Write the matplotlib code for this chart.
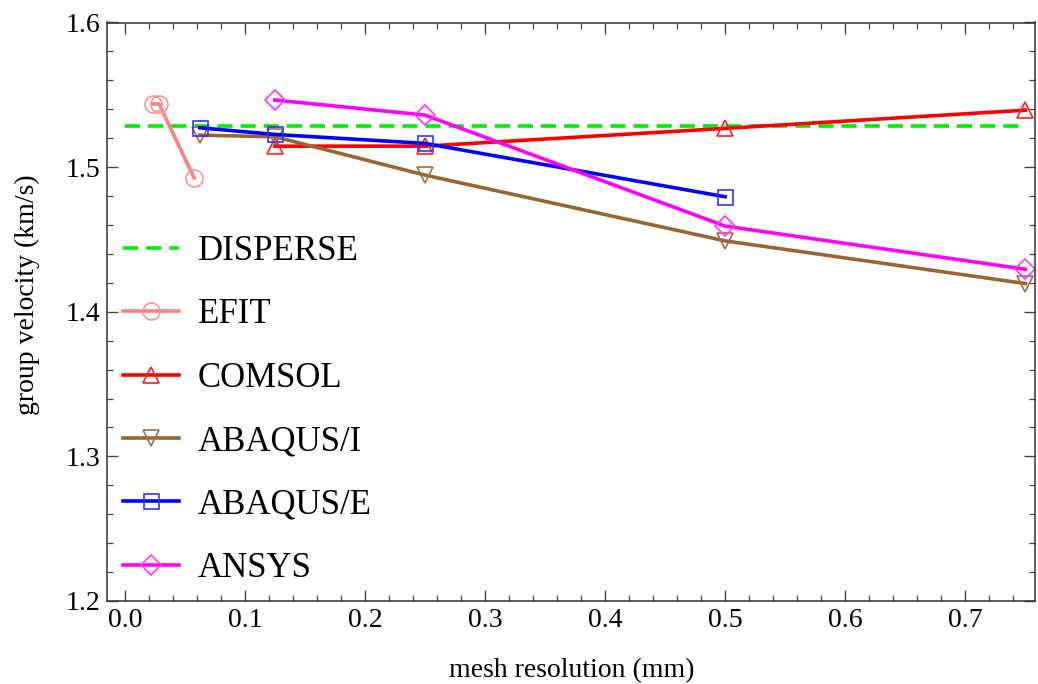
import matplotlib
matplotlib.use("Agg")
import matplotlib.pyplot as plt
from matplotlib.ticker import MultipleLocator

plt.rcParams['font.family'] = ['Liberation Serif', 'DejaVu Serif']

# data
disperse_x = [0.0, 0.75]
disperse_y = [1.5286, 1.5286]

efit_x = [0.0236, 0.0286, 0.0578]
efit_y = [1.5437, 1.5437, 1.4925]

comsol_x = [0.125, 0.25, 0.5, 0.75]
comsol_y = [1.5145, 1.5145, 1.5268, 1.5394]

abaqus_i_x = [0.0625, 0.125, 0.25, 0.5, 0.75]
abaqus_i_y = [1.5221, 1.5210, 1.4945, 1.4490, 1.4195]

abaqus_e_x = [0.0625, 0.125, 0.25, 0.5]
abaqus_e_y = [1.5272, 1.5226, 1.5164, 1.4795]

ansys_x = [0.125, 0.25, 0.5, 0.75]
ansys_y = [1.5464, 1.5360, 1.4592, 1.4294]

fig = plt.figure(figsize=(10.38, 6.84), dpi=100)
ax = fig.add_axes([107/1038, 1 - 601/684, 928/1038, 578.5/684])

lw = 2.6
mew = 1.2

ax.plot(disperse_x, disperse_y, color='#00ee00', lw=lw, linestyle=(0, (4.2, 2.2)), label='DISPERSE')
ax.plot(efit_x, efit_y, color='#ff8080', lw=lw, marker='o', ms=12.2, mfc='none',
        mec='#ff9090', mew=mew, label='EFIT')
ax.plot(comsol_x, comsol_y, color='#ff0000', lw=lw, marker='^', ms=11, mfc='none',
        mec='#ff2020', mew=mew, label='COMSOL')
ax.plot(abaqus_i_x, abaqus_i_y, color='#996633', lw=lw, marker='v', ms=11, mfc='none',
        mec='#a0703c', mew=mew, label='ABAQUS/I')
ax.plot(abaqus_e_x, abaqus_e_y, color='#0000ff', lw=lw, marker='s', ms=10.8, mfc='none',
        mec='#3333ff', mew=mew, label='ABAQUS/E')
ax.plot(ansys_x, ansys_y, color='#ff00ff', lw=lw, marker='D', ms=10.5, mfc='none',
        mec='#ff33ff', mew=mew, label='ANSYS')

ax.set_xlim(-0.0148, 0.758)
ax.set_ylim(1.2, 1.6)

ax.xaxis.set_major_locator(MultipleLocator(0.1))
ax.xaxis.set_minor_locator(MultipleLocator(0.02))
ax.yaxis.set_major_locator(MultipleLocator(0.1))
ax.yaxis.set_minor_locator(MultipleLocator(0.02))
ax.xaxis.set_major_formatter(lambda v, p: f"{v:.1f}")
ax.yaxis.set_major_formatter(lambda v, p: f"{v:.1f}")

ax.tick_params(which='both', direction='in', top=True, right=True, color='#444444',
               labelsize=20, pad=5)
ax.tick_params(which='major', length=8, width=1)
ax.tick_params(which='minor', length=4.5, width=0.9)
for s in ax.spines.values():
    s.set_color('#333333')
    s.set_linewidth(1.1)

ax.set_xlabel('mesh resolution (mm)', fontsize=20)
ax.set_ylabel('group velocity (km/s)', fontsize=20)
ax.xaxis.set_label_coords(0.501, -0.12)
ax.xaxis.label.set_va('center')
ax.yaxis.set_label_coords(-0.086, 0.53)
ax.yaxis.label.set_va('center')

leg = ax.legend(loc='upper left', bbox_to_anchor=(0.0172, 0.6326), frameon=False,
                fontsize=25, handlelength=1.6, handletextpad=0.55, labelspacing=0.875,
                borderpad=0, borderaxespad=0)

fig.savefig('out.png', dpi=100)
